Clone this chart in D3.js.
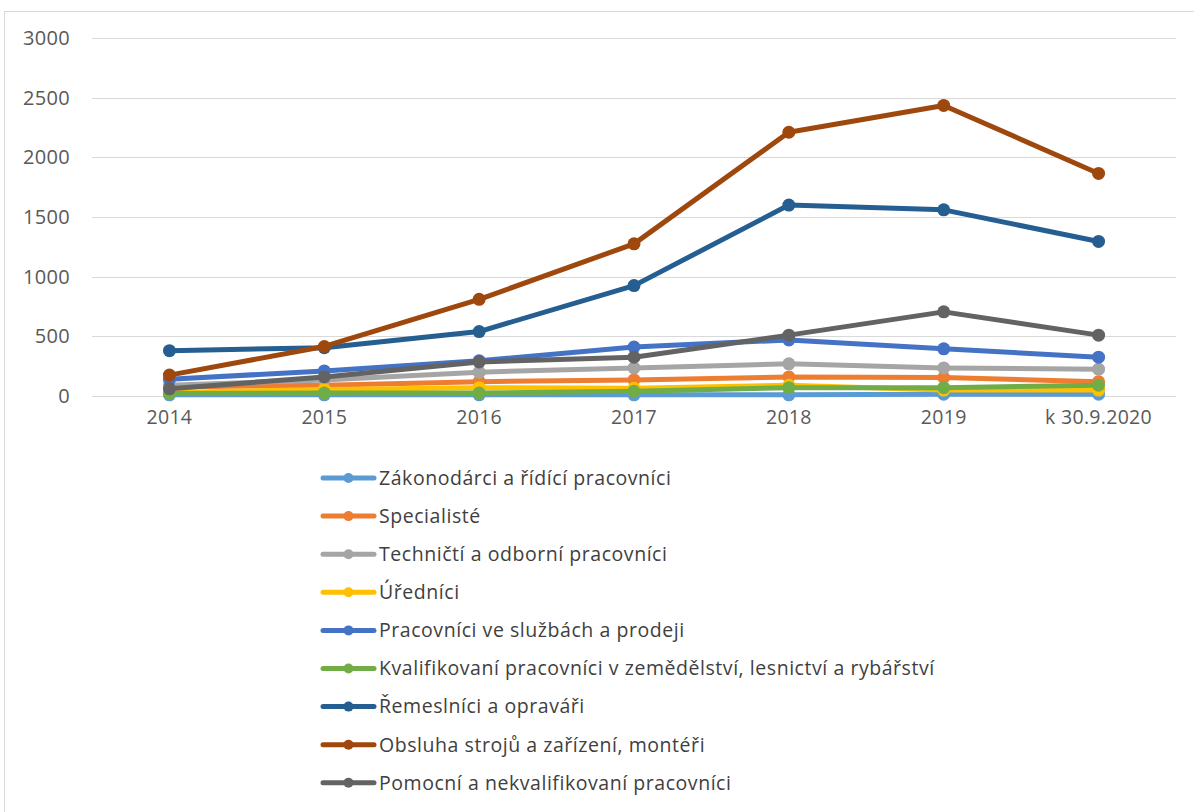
<!DOCTYPE html>
<html><head><meta charset="utf-8">
<script src="https://cdn.jsdelivr.net/npm/d3@7"></script>
<style>body{margin:0;background:#fff;} svg{display:block;}</style>
</head><body>
<svg id="chart" width="1194" height="812"></svg>
<script>
const categories = ["2014","2015","2016","2017","2018","2019","k 30.9.2020"];
const seriesNames = [
  "Zákonodárci a řídící pracovníci",
  "Specialisté",
  "Techničtí a odborní pracovníci",
  "Úředníci",
  "Pracovníci ve službách a prodeji",
  "Kvalifikovaní pracovníci v zemědělství, lesnictví a rybářství",
  "Řemeslníci a opraváři",
  "Obsluha strojů a zařízení, montéři",
  "Pomocní a nekvalifikovaní pracovníci"
];
const zakonodarci = [10, 10, 10, 10, 10, 15, 15];
const specialiste = [75, 90, 120, 135, 160, 155, 120];
const technicti   = [90, 135, 200, 235, 270, 235, 225];
const urednici    = [30, 55, 70, 65, 90, 50, 50];
const sluzby      = [140, 210, 295, 410, 470, 395, 325];
const kvalifikovani = [20, 25, 25, 40, 70, 70, 90];
const remeslnici  = [380, 405, 540, 925, 1600, 1560, 1295];
const obsluha     = [175, 415, 810, 1275, 2210, 2435, 1865];
const pomocni     = [60, 160, 285, 325, 510, 705, 510];
const yTicks = [0, 500, 1000, 1500, 2000, 2500, 3000];
const colors = ["#5B9BD5","#ED7D31","#A5A5A5","#FFC000","#4472C4","#70AD47","#255E91","#9E480E","#636363"];
const allValues = [zakonodarci, specialiste, technicti, urednici, sluzby, kvalifikovani, remeslnici, obsluha, pomocni];

(function(){
const svg = d3.select("#chart");
const font = "'Open Sans', sans-serif";

svg.append("rect").attr("x",4.5).attr("y",11.5).attr("width",1200).attr("height",820)
  .attr("fill","none").attr("stroke","#d9d9d9");

const pl = 92, pr = 1176, pt = 38, pb = 396;
const x = d3.scaleBand().domain(categories).range([pl, pr]);
const y = d3.scaleLinear().domain([0, 3000]).range([pb, pt]);

svg.append("g").selectAll("line").data(yTicks).join("line")
  .attr("x1", pl).attr("x2", pr)
  .attr("y1", d => Math.round(y(d)) + 0.5).attr("y2", d => Math.round(y(d)) + 0.5)
  .attr("stroke", "#d9d9d9").attr("stroke-width", 1);

const yAxis = d3.axisLeft(y).tickValues(yTicks).tickSize(0).tickPadding(0).tickFormat(d3.format("d"));
const gy = svg.append("g").attr("transform", `translate(${pl-22},0)`).call(yAxis);
gy.select(".domain").remove();
gy.selectAll("text").attr("font-family", font).attr("font-size", 20).attr("letter-spacing", 0.3).attr("fill", "#595959");

const xAxis = d3.axisBottom(x).tickSize(0).tickPadding(0);
const gx = svg.append("g").attr("transform", `translate(0,${pb+14})`).call(xAxis);
gx.select(".domain").remove();
gx.selectAll("text").attr("font-family", font).attr("font-size", 19.5).attr("letter-spacing", 0.3).attr("fill", "#595959");

const cx = c => x(c) + x.bandwidth()/2;
const line = d3.line().x((d,i) => cx(categories[i])).y(d => y(d));

allValues.forEach((vals, si) => {
  const g = svg.append("g");
  g.append("path").datum(vals).attr("d", line).attr("fill","none")
    .attr("stroke", colors[si]).attr("stroke-width", 5).attr("stroke-linejoin","round").attr("stroke-linecap","round");
  g.selectAll("circle").data(vals).join("circle")
    .attr("cx", (d,i) => cx(categories[i])).attr("cy", d => y(d)).attr("r", 6.5)
    .attr("fill", colors[si]);
});

const lg = svg.append("g");
seriesNames.forEach((name, i) => {
  const yy = 478 + i * 38.1;
  lg.append("line").attr("x1", 323).attr("x2", 374).attr("y1", yy).attr("y2", yy)
    .attr("stroke", colors[i]).attr("stroke-width", 5).attr("stroke-linecap","round");
  lg.append("circle").attr("cx", 348.5).attr("cy", yy).attr("r", 5).attr("fill", colors[i]);
  lg.append("text").attr("x", 379).attr("y", yy).attr("dy", "0.35em")
    .attr("font-family", font).attr("font-size", 19.5).attr("letter-spacing", 0.55).attr("fill", "#404040").text(name);
});
})();
</script>
</body></html>
